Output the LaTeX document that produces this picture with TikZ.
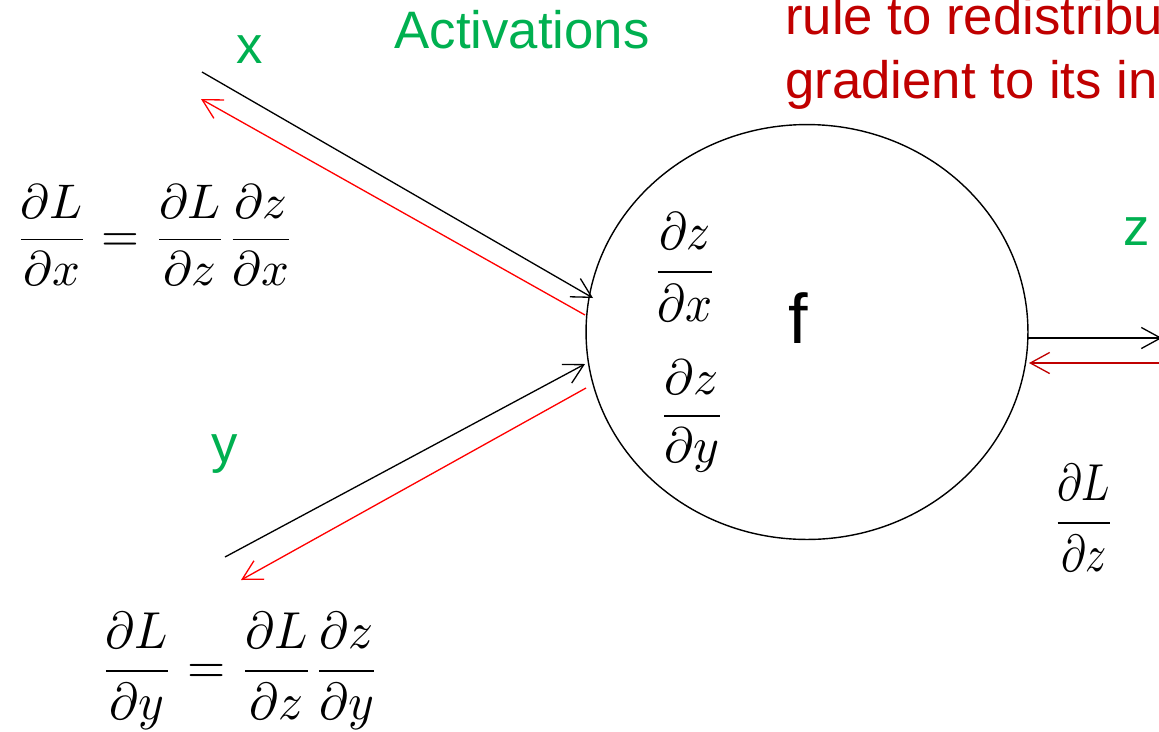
\documentclass[tikz,border=0pt]{standalone}
\usepackage[no-math]{fontspec}
\usepackage{graphicx}
\setmainfont{Liberation Sans}
\usetikzlibrary{positioning, arrows.meta, shapes.geometric}
\definecolor{actgreen}{HTML}{00B050}
\definecolor{darkred}{HTML}{C00000}
\definecolor{gradred}{HTML}{FF0000}
\newcommand{\gradfrac}[3]{\resizebox*{#1}{#2}{$\displaystyle #3$}}
\tikzset{
  fwd/.style={draw=black, line width=0.75pt, -{Straight Barb[length=11pt,width=12pt]}},
  bwd/.style={draw=gradred, line width=0.75pt, -{Straight Barb[length=11pt,width=12pt]}},
  varlabel/.style={text=actgreen, font=\fontsize{30}{35}\selectfont, anchor=base, inner sep=0pt},
  rulelabel/.style={text=darkred, font=\fontsize{30}{35}\selectfont, anchor=base west, inner sep=0pt},
  mathbox/.style={inner sep=0pt},
}

\begin{document}
\begin{tikzpicture}[x=0.02cm, y=-0.02cm]
  \useasboundingbox (0,0) rectangle (1159,731);

  % the gate
  \node[draw, ellipse, line width=0.8pt, minimum width=8.84cm, minimum height=8.3cm, inner sep=0pt] (gate) at (807,332) {};
  \node[anchor=base, inner sep=0pt, font=\fontsize{40}{48}\selectfont] (fname) at (798,343) {f};
  \node[mathbox] (dzdx) at (685,267) {\gradfrac{1.32cm}{2.18cm}{\frac{\partial z}{\partial x}}};
  \node[mathbox] (dzdy) at (692,416) {\gradfrac{1.34cm}{2.24cm}{\frac{\partial z}{\partial y}}};

  % labels
  \node[varlabel] (actlabel) at (522,48) {Activations};
  \node[varlabel] (xlabel) at (250,63) {x};
  \node[varlabel] (ylabel) at (225,462) {y};
  \node[varlabel] (zlabel) at (1137,245) {z};
  \node[rulelabel] (rulea) at (785,34) {rule to redistribu};
  \node[rulelabel] (ruleb) at (785,98) {gradient to its in};

  % chain rule terms
  \node[mathbox] (dLdx) at (155,235) {\gradfrac{5.6cm}{2.0cm}{\frac{\partial L}{\partial x}=\frac{\partial L}{\partial z}\frac{\partial z}{\partial x}}};
  \node[mathbox] (dLdy) at (240,671) {\gradfrac{5.6cm}{2.34cm}{\frac{\partial L}{\partial y}=\frac{\partial L}{\partial z}\frac{\partial z}{\partial y}}};
  \node[mathbox] (dLdz) at (1084,518) {\gradfrac{1.26cm}{2.14cm}{\frac{\partial L}{\partial z}}};

  % wire ends
  \coordinate (xin) at (202,72);
  \coordinate (xtip) at (593,298);
  \coordinate (xback) at (585,315);
  \coordinate (xout) at (201,99);
  \coordinate (yin) at (225,557);
  \coordinate (ytip) at (585,364);
  \coordinate (yback) at (586,388);
  \coordinate (yout) at (241,580);
  \coordinate (zstart) at (1028,338);
  \coordinate (ztip) at (1162,338);
  \coordinate (zback) at (1180,363);
  \coordinate (zend) at (1029,363);

  % forward and backward passes
  \draw[fwd] (xin) -- (xtip);
  \draw[bwd] (xback) -- (xout);
  \draw[fwd] (yin) -- (ytip);
  \draw[bwd] (yback) -- (yout);
  \draw[fwd] (zstart) -- (ztip);
  \draw[bwd, draw=darkred] (zback) -- (zend);
\end{tikzpicture}
\end{document}
